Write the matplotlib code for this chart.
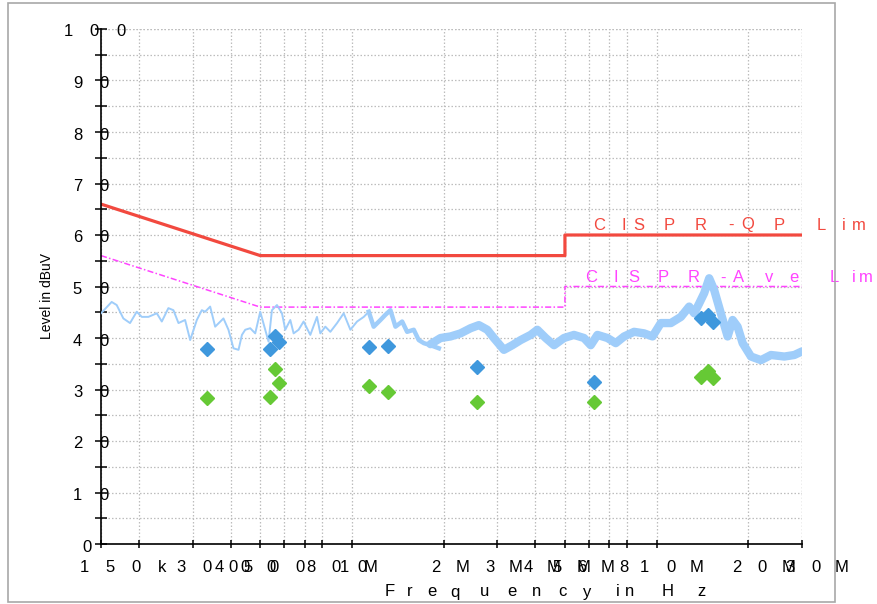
import matplotlib
matplotlib.use("Agg")
import matplotlib.pyplot as plt
from matplotlib.patches import Rectangle

plt.rcParams["font.family"] = ["Liberation Sans", "DejaVu Sans"]

# ---------------- data ----------------
# Peak scan trace, low-frequency part (kHz, dBuV)
scan_f_low = [150, 162.6, 168.9, 177.6, 186.8, 196.5, 204.1, 214.6, 228.7, 237.5,
              249.6, 259.3, 269.4, 283.2, 294.3, 309.5, 321.4, 329.6, 342.3, 355.5,
              378.5, 393.1, 408.3, 424.1, 435.2, 446.2, 463.3, 481.2, 499.8, 519.0,
              532.2, 546.0, 567.1, 589.0, 603.9, 627.3, 643.2, 667.9, 693.6, 729.6,
              767.5, 787.0, 817.5, 849.0, 893.2, 939.0, 987.8, 1039, 1093, 1135,
              1178, 1240, 1287, 1337, 1389, 1461, 1517, 1595, 1656, 1721, 1810, 1928]
scan_v_low = [44.8, 47.0, 46.4, 43.8, 42.9, 45.1, 44.1, 44.1, 44.8, 43.2,
              45.8, 45.4, 42.9, 43.5, 39.6, 43.5, 45.4, 45.1, 46.1, 42.2,
              43.8, 41.6, 38.0, 37.7, 40.6, 41.6, 41.9, 40.9, 45.1, 41.6,
              39.3, 45.4, 46.4, 44.8, 41.6, 43.5, 40.9, 41.6, 43.2, 40.6,
              44.1, 40.9, 42.2, 41.2, 42.9, 44.8, 41.6, 43.2, 44.1, 45.1,
              42.2, 43.5, 44.5, 45.4, 42.2, 43.2, 41.2, 41.6, 39.6, 39.0, 38.6, 38.0]

# Peak scan trace, high-frequency part (kHz, dBuV)
scan_f_high = [1810, 1953, 2106, 2271, 2450, 2609, 2780, 2922, 3152, 3359,
               3578, 3858, 4059, 4323, 4604, 4964, 5354, 5775, 6075, 6392,
               6894, 7341, 7818, 8432, 9096, 9693, 10322, 11133, 12012, 12788,
               13281, 13791, 14322, 14876, 15450, 16245, 17100, 17760, 18435, 19155,
               20400, 22005, 23730, 26250, 28305, 30000]
scan_v_high = [38.8, 40.0, 40.3, 40.9, 41.9, 42.5, 41.6, 40.0, 37.7, 38.6,
               39.6, 40.6, 41.6, 40.0, 38.6, 40.0, 40.6, 40.0, 38.6, 40.6,
               40.0, 39.0, 40.3, 41.2, 40.9, 40.3, 42.9, 42.9, 44.1, 46.1,
               44.8, 46.7, 48.7, 51.6, 49.3, 44.8, 40.3, 43.5, 42.2, 39.0,
               36.4, 35.7, 36.7, 36.4, 36.7, 37.4]

# Final measurements (kHz, dBuV)
meas_f = [334, 539, 560, 577, 1134, 1314, 2580, 6230, 13970, 14700, 15300]
qp_levels = [37.9, 37.8, 40.4, 39.2, 38.3, 38.5, 34.4, 31.5, 43.8, 44.5, 43.2]
av_levels = [28.3, 28.6, 33.9, 31.2, 30.7, 29.5, 27.6, 27.6, 32.5, 33.5, 32.3]

# CISPR limit lines (kHz, dBuV)
qp_lim_f = [150, 500, 5000, 5000, 30000]
qp_lim_v = [66, 56, 56, 60, 60]
av_lim_f = [150, 500, 5000, 5000, 30000]
av_lim_v = [56, 46, 46, 50, 50]

# Axis ticks
x_ticks = [150, 200, 300, 400, 500, 600, 700, 800, 1000, 2000, 3000, 4000,
           5000, 6000, 7000, 8000, 10000, 20000, 30000]
x_labels = {150: "150k", 300: "300", 400: "400", 500: "500", 800: "800",
            1000: "1M", 2000: "2M", 3000: "3M", 4000: "4M", 5000: "5M",
            6000: "6M", 8000: "8", 10000: "10M", 20000: "20M", 30000: "30M"}
y_ticks = [0, 10, 20, 30, 40, 50, 60, 70, 80, 90, 100]
y_labels = ["0", "1 0", "2 0", "3 0", "4 0", "5 0", "6 0", "7 0", "8 0", "9 0", "1 0 0"]

# ---------------- style ----------------
RED = "#f2493f"
MAGENTA = "#ff44ff"
TRACE = "#9fcdfa"
BLUE = "#3f98dd"
GREEN = "#66c935"
GRID = "#bdbdbd"
FS = 12

W, H = 878, 604
fig = plt.figure(figsize=(W / 100, H / 100), dpi=100)
fig.patch.set_facecolor("white")
ax = fig.add_axes([101 / W, 1 - 544 / H, 701 / W, 515 / H])
ax.set_xscale("log")
ax.set_xlim(150, 30000)
ax.set_ylim(0, 100)

for s in ("top", "right"):
    ax.spines[s].set_visible(False)
for s in ("left", "bottom"):
    ax.spines[s].set_linewidth(1.2)
    ax.spines[s].set_color("black")

ax.set_xticks(x_ticks)
ax.set_xticks([], minor=True)
ax.set_yticks(y_ticks)
ax.set_yticks([v + 5 for v in y_ticks[:-1]], minor=True)
ax.tick_params(axis="both", which="both", direction="inout", width=1.1,
               labelbottom=False, labelleft=False, color="black")
ax.tick_params(axis="y", which="both", length=8)
ax.tick_params(axis="x", which="both", length=6)
ax.grid(True, which="major", axis="x", color=GRID, lw=0.9, ls=(0, (1.2, 1.6)))
ax.grid(True, which="both", axis="y", color=GRID, lw=0.9, ls=(0, (1.2, 1.6)))
ax.set_axisbelow(True)
ax.axvline(30000, color=GRID, lw=0.9, ls=(0, (1.2, 1.6)), zorder=0.5)
ax.axhline(100, color=GRID, lw=0.9, ls=(0, (1.2, 1.6)), zorder=0.5)

# limit lines
ax.plot(av_lim_f, av_lim_v, color=MAGENTA, lw=1.1, ls=(0, (4, 1.5, 1, 1.5)), zorder=2)
ax.plot(qp_lim_f, qp_lim_v, color=RED, lw=2.3, zorder=2)

# scan trace: thin below ~1 MHz, a widening noise band above
ax.plot(scan_f_low, scan_v_low, color=TRACE, lw=1.4, zorder=3)
mid = [i for i, f in enumerate(scan_f_low) if f >= 1100]
ax.plot([scan_f_low[i] for i in mid], [scan_v_low[i] for i in mid],
        color=TRACE, lw=3.2, zorder=3, solid_joinstyle="round")
ax.plot(scan_f_high, scan_v_high, color=TRACE, lw=6, zorder=3,
        solid_joinstyle="round", solid_capstyle="round")

# measurement markers
ax.plot(meas_f, qp_levels, ls="none", marker="D", ms=7.5, color=BLUE, mec=BLUE, zorder=4)
ax.plot(meas_f, av_levels, ls="none", marker="D", ms=7.5, color=GREEN, mec=GREEN, zorder=4)


def spaced(chars, xy, xycoords, offsets, dy, color="black", size=FS):
    for ch, dx in zip(chars, offsets):
        if ch == " ":
            continue
        ax.annotate(ch, xy=xy, xycoords=xycoords, xytext=(dx, dy),
                    textcoords="offset pixels", ha="center", va="center",
                    fontsize=size, color=color, annotation_clip=False, zorder=5)


# x tick labels, wide letter spacing
for f, lab in x_labels.items():
    n = len(lab)
    first = -3 - (n - 1) * 4.5
    spaced(lab, (f, 0), ("data", "axes fraction"),
           [first + i * 26 for i in range(n)], -23)

# y tick labels
for v, lab in zip(y_ticks, y_labels):
    chars = lab.replace(" ", "")
    n = len(chars)
    first = -14 - (n - 1) * 9.5
    spaced(chars, (0, v), ("axes fraction", "data"),
           [first + i * 26.5 for i in range(n)], -3)

# limit labels
spaced("CISPR-QP Lim", (5000, 60), "data",
       [34, 59, 74, 104, 136, 166, 183, 214, 999, 256, 279, 294], 10, color=RED)
spaced("CISPR-Ave Lim", (5000, 50), "data",
       [26, 51, 69, 98, 129, 158, 174, 204, 229, 999, 269, 289, 301], 8.5, color=MAGENTA)

# axis titles
xl_chars = "Frequency in Hz"
xl_pos = [390, 410, 432, 455, 485, 512, 537, 562, 587, 0, 618, 630, 0, 668, 702]
for ch, px in zip(xl_chars, xl_pos):
    if ch != " ":
        fig.text(px / W, 1 - 592 / H, ch, ha="center", va="center", fontsize=FS)

fig.text(47 / W, 1 - 296 / H, "Level in dBuV", rotation=90, ha="center",
         va="center", fontsize=10)

# outer frame
fig.patches.append(Rectangle((8 / W, 1 - 602 / H), (835 - 8) / W, (602 - 3) / H,
                             transform=fig.transFigure, fill=False,
                             ec="#a8a8a8", lw=1.2))

fig.savefig("out.png", dpi=100, facecolor="white")
